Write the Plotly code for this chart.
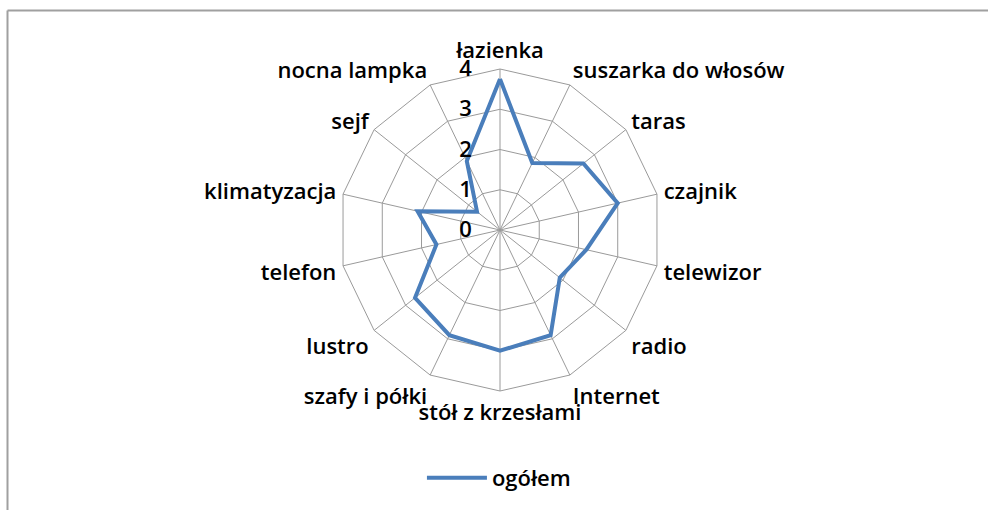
import plotly.graph_objects as go

categories = ["łazienka", "suszarka do włosów", "taras", "czajnik", "telewizor",
              "radio", "Internet", "stół z krzesłami", "szafy i półki", "lustro",
              "telefon", "klimatyzacja", "sejf", "nocna lampka"]
values = [3.75, 1.85, 2.65, 3.0, 2.2, 1.9, 2.9, 3.0, 2.9, 2.7, 1.62, 2.1, 0.73, 1.9]
series_name = "ogółem"
radial_ticks = [0, 1, 2, 3, 4]

W, H = 988, 510
FONT = "Open Sans, Lato, sans-serif"
FS = 22

cx, cy, R = 500, 230, 161

fig = go.Figure()
fig.add_trace(go.Scatterpolar(
    r=values + values[:1],
    theta=categories + categories[:1],
    mode="lines",
    name=series_name,
    line=dict(color="#4a7ebb", width=4),
))

fnt = dict(family=FONT, size=FS, color="#000000", weight=600)

fig.update_layout(
    width=W, height=H,
    margin=dict(l=0, r=0, t=0, b=0),
    paper_bgcolor="white",
    plot_bgcolor="white",
    font=fnt,
    showlegend=True,
    legend=dict(x=0.505, y=1 - 478 / H, xanchor="center", yanchor="middle",
                orientation="h", font=fnt, itemwidth=60),
    polar=dict(
        domain=dict(x=[(cx - R) / W, (cx + R) / W],
                    y=[1 - (cy + R) / H, 1 - (cy - R) / H]),
        gridshape="linear",
        bgcolor="white",
        angularaxis=dict(
            rotation=90, direction="clockwise",
            showgrid=True, gridcolor="#9a9a9a", gridwidth=1,
            showline=True, linecolor="#9a9a9a", linewidth=1,
            ticks="outside", ticklen=2, tickcolor="rgba(0,0,0,0)",
            tickfont=fnt,
        ),
        radialaxis=dict(
            range=[0, 4], tickvals=radial_ticks,
            showgrid=True, gridcolor="#9a9a9a", gridwidth=1,
            showline=False, ticks="outside", ticklen=20,
            tickcolor="rgba(0,0,0,0)", angle=90, tickangle=90,
            side="counterclockwise",
            tickfont=fnt,
        ),
    ),
    shapes=[
        dict(type="line", xref="paper", yref="paper",
             x0=7.5 / W, y0=1 - 10.5 / H, x1=1, y1=1 - 10.5 / H,
             line=dict(color="#a0a0a0", width=2)),
        dict(type="line", xref="paper", yref="paper",
             x0=7.5 / W, y0=1 - 10.5 / H, x1=7.5 / W, y1=0,
             line=dict(color="#a0a0a0", width=2)),
    ],
)

fig.write_html("out.html", config={"displayModeBar": False},
               post_script="document.body.style.margin='0';document.body.style.padding='0';")
